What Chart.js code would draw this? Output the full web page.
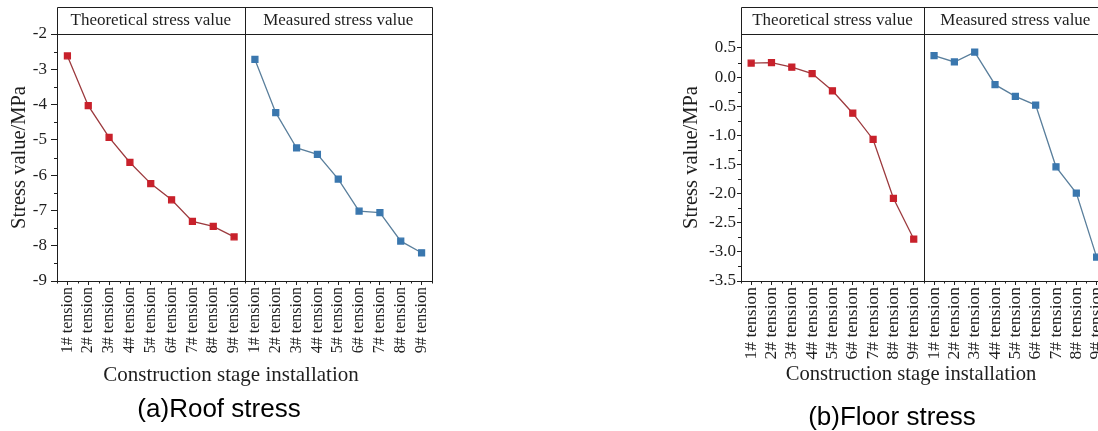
<!DOCTYPE html>
<html>
<head>
<meta charset="utf-8">
<script src="https://cdn.jsdelivr.net/npm/chart.js@4"></script>
<style>
  html, body { margin: 0; padding: 0; background: #fff; }
  body { width: 1098px; height: 431px; overflow: hidden; position: relative; }
  canvas { position: absolute; top: 0; }
  #roof { left: 0; }
  #floor { left: 660px; }
</style>
</head>
<body>
<canvas id="roof" width="445" height="431"></canvas>
<canvas id="floor" width="460" height="431"></canvas>
<script>
// tension stages (same for both halves of each panel)
const stages = ['1# tension', '2# tension', '3# tension', '4# tension', '5# tension',
                '6# tension', '7# tension', '8# tension', '9# tension'];
const groupNames = ['Theoretical stress value', 'Measured stress value'];

// (a) roof stress, MPa
const roofTheoretical = [-2.62, -4.03, -4.93, -5.64, -6.24, -6.70, -7.31, -7.45, -7.75];
const roofMeasured    = [-2.72, -4.23, -5.23, -5.41, -6.11, -7.02, -7.06, -7.87, -8.20];

// (b) floor stress, MPa
const floorTheoretical = [0.24, 0.25, 0.17, 0.06, -0.235, -0.62, -1.07, -2.08, -2.78];
const floorMeasured    = [0.37, 0.26, 0.43, -0.13, -0.33, -0.48, -1.54, -1.99, -3.09];

const ink = '#1e1e1e';
const serif = '"Liberation Serif", "Times New Roman", serif';
const sans = '"Liberation Sans", Arial, sans-serif';

function makeChart(id, o) {
  const labels = stages.concat(stages);
  const gap = stages.map(() => null);

  // header boxes, divider, minor ticks, x title and caption
  const decor = {
    id: 'decor',
    afterDraw(chart) {
      const ctx = chart.ctx;
      const a = chart.chartArea;
      const x = chart.scales.x;
      const y = chart.scales.y;
      const mid = x.getPixelForValue(8.5);
      ctx.save();
      ctx.strokeStyle = ink;
      ctx.lineWidth = 1;
      ctx.beginPath();
      ctx.rect(a.left + 0.5, 7.5, a.right - a.left, a.top - 7);
      ctx.moveTo(Math.round(mid) + 0.5, 7);
      ctx.lineTo(Math.round(mid) + 0.5, a.bottom);
      ctx.moveTo(a.right + 0.5, a.top);
      ctx.lineTo(a.right + 0.5, a.bottom);
      // minor ticks on y
      for (let v = y.min; v <= y.max + 1e-9; v += o.minor) {
        const r = v / o.major;
        if (Math.abs(r - Math.round(r)) < 1e-6) continue;
        const py = Math.round(y.getPixelForValue(v)) + 0.5;
        ctx.moveTo(a.left - 3, py);
        ctx.lineTo(a.left, py);
      }
      // minor ticks on x at band edges
      for (let i = 0; i <= 18; i++) {
        const px = Math.round(x.getPixelForValue(i - 0.5)) + 0.5;
        ctx.moveTo(px, a.bottom);
        ctx.lineTo(px, a.bottom + 2.5);
      }
      ctx.stroke();

      ctx.fillStyle = ink;
      ctx.textAlign = 'center';
      ctx.textBaseline = 'middle';
      ctx.font = o.headFont + 'px ' + serif;
      ctx.fillText(groupNames[0], (a.left + mid) / 2, 21);
      ctx.fillText(groupNames[1], (mid + a.right) / 2, 21);

      ctx.font = o.xTitleFont + 'px ' + serif;
      ctx.fillText('Construction stage installation', o.xTitleX, 375);

      ctx.fillStyle = '#000';
      ctx.font = '26px ' + sans;
      ctx.fillText(o.caption, o.captionX, o.captionY);
      ctx.restore();
    }
  };

  return new Chart(document.getElementById(id), {
    type: 'line',
    data: {
      labels: labels,
      datasets: [
        {
          label: groupNames[0],
          data: o.theoretical.concat(gap),
          borderColor: '#9c3a3e',
          backgroundColor: '#c8212b',
          pointBackgroundColor: '#c8212b',
          pointBorderColor: '#c8212b',
          borderWidth: 1.3,
          pointStyle: 'rect',
          pointRadius: 4.2,
          spanGaps: false,
          tension: 0
        },
        {
          label: groupNames[1],
          data: gap.concat(o.measured),
          borderColor: '#5a7f9c',
          backgroundColor: '#3a77ae',
          pointBackgroundColor: '#3a77ae',
          pointBorderColor: '#3a77ae',
          borderWidth: 1.3,
          pointStyle: 'rect',
          pointRadius: 4.2,
          spanGaps: false,
          tension: 0
        }
      ]
    },
    options: {
      responsive: false,
      animation: false,
      layout: { padding: { top: 34, right: o.padRight, left: 0, bottom: 0 } },
      plugins: {
        legend: { display: false },
        tooltip: { enabled: false }
      },
      scales: {
        x: {
          type: 'category',
          offset: true,
          afterFit(scale) { scale.height = 150; },
          grid: {
            offset: false,
            drawOnChartArea: false,
            drawTicks: true,
            tickLength: 4,
            color: ink
          },
          border: { display: true, color: ink, width: 1 },
          ticks: {
            autoSkip: false,
            maxRotation: 90,
            minRotation: 90,
            padding: 2,
            color: ink,
            font: { family: serif, size: o.xTickFont }
          }
        },
        y: {
          min: o.min,
          max: o.max,
          afterFit(scale) { scale.width = o.yWidth; },
          grid: {
            drawOnChartArea: false,
            drawTicks: true,
            tickLength: o.tickLen,
            color: ink
          },
          border: { display: true, color: ink, width: 1 },
          ticks: {
            stepSize: o.major,
            includeBounds: false,
            padding: o.tickPad,
            color: ink,
            font: { family: serif, size: 17 },
            callback: (v) => o.decimals ? Number(v).toFixed(o.decimals) : String(v)
          },
          title: {
            display: true,
            text: 'Stress value/MPa',
            color: ink,
            font: { family: serif, size: 20.5 },
            padding: { top: o.titlePad, bottom: 0 }
          }
        }
      }
    },
    plugins: [decor]
  });
}

makeChart('roof', {
  theoretical: roofTheoretical, measured: roofMeasured,
  min: -9, max: -2, major: 1, minor: 0.5, decimals: 0,
  yWidth: 57, padRight: 13, tickLen: 6, tickPad: 4, titlePad: 7,
  xTickFont: 16, headFont: 17, xTitleFont: 21, xTitleX: 231,
  caption: '(a)Roof stress', captionX: 219, captionY: 410
});

makeChart('floor', {
  theoretical: floorTheoretical, measured: floorMeasured,
  min: -3.5, max: 0.74, major: 0.5, minor: 0.25, decimals: 1,
  yWidth: 81, padRight: 13, tickLen: 4, tickPad: 1, titlePad: 19,
  xTickFont: 17.5, headFont: 17, xTitleFont: 20.6, xTitleX: 911 - 660,
  caption: '(b)Floor stress', captionX: 892 - 660, captionY: 418
});
</script>
</body>
</html>
